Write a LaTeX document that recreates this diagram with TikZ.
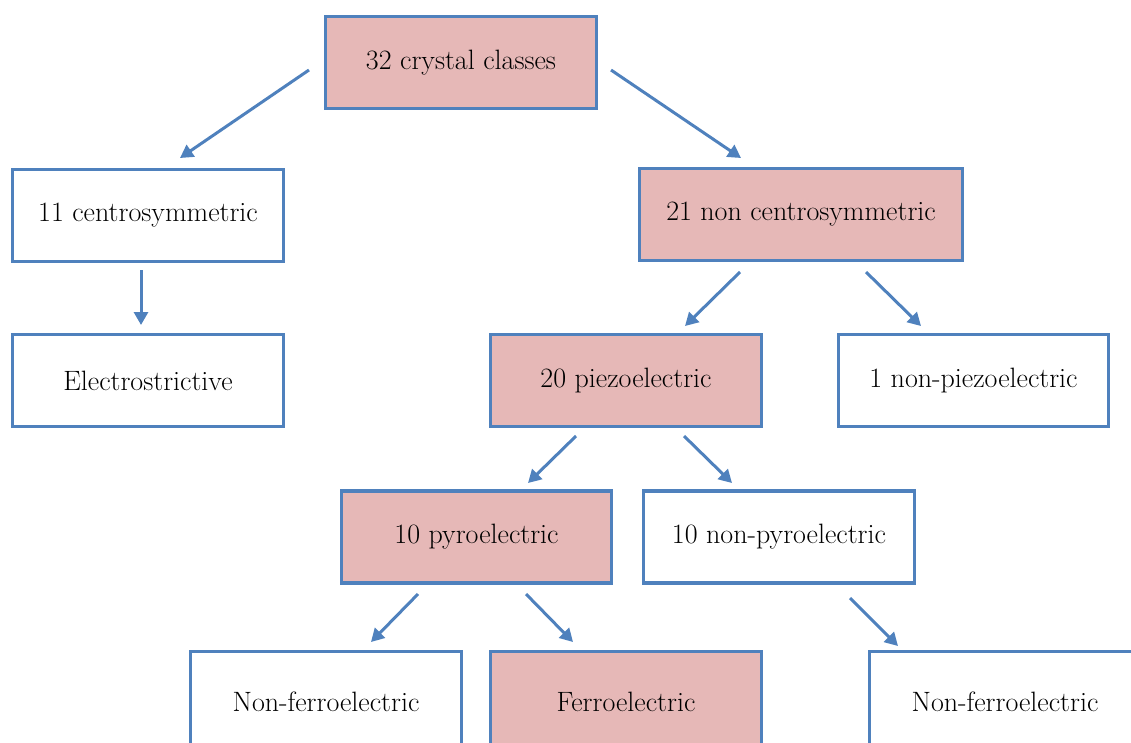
\documentclass[tikz,border=0pt]{standalone}
\usetikzlibrary{arrows.meta}
\definecolor{boxblue}{HTML}{4F81BD}
\definecolor{boxpink}{HTML}{E6B8B7}
\begin{document}
\begin{tikzpicture}[x=1pt,y=-1pt,
  box/.style={draw=boxblue,line width=3.5pt,minimum width=271pt,minimum height=92pt,inner sep=0pt,font=\fontsize{28}{32}\selectfont,text=black,anchor=center},
  pinkbox/.style={box,fill=boxpink},
  whitebox/.style={box,fill=white},
  conn/.style={draw=boxblue,line width=3pt,-{Triangle[length=13pt,width=14pt]}}]
\useasboundingbox (0,0) rectangle (1131,742);
\clip (0,0) rectangle (1131,742);
\node[pinkbox] (root) at (461,62.5) {32 crystal classes};
\node[whitebox] (centro) at (148,215.5) {11 centrosymmetric};
\node[pinkbox,minimum width=323pt] (noncentro) at (801,214.5) {21 non centrosymmetric};
\node[whitebox] (electro) at (148,380.5) {Electrostrictive};
\node[pinkbox] (piezo) at (626,380.5) {20 piezoelectric};
\node[whitebox,minimum width=270pt] (nonpiezo) at (973.5,380.5) {1 non-piezoelectric};
\node[pinkbox,minimum width=270pt] (pyro) at (476.5,537) {10 pyroelectric};
\node[whitebox] (nonpyro) at (779,537) {10 non-pyroelectric};
\node[whitebox,minimum height=100pt] (nonferroA) at (326,701.5) {Non-ferroelectric};
\node[pinkbox,minimum height=100pt] (ferro) at (626,701.5) {Ferroelectric};
\node[whitebox,minimum height=100pt] (nonferroB) at (1005,701.5) {Non-ferroelectric};
% connector end points
\coordinate (a1) at (309,70);  \coordinate (b1) at (180,158);
\coordinate (a2) at (611,70);  \coordinate (b2) at (741,158);
\coordinate (a3) at (141,270); \coordinate (b3) at (141,325);
\coordinate (a4) at (740,272); \coordinate (b4) at (685,326);
\coordinate (a5) at (866,272); \coordinate (b5) at (921,326);
\coordinate (a6) at (576,436); \coordinate (b6) at (528,483);
\coordinate (a7) at (684,436); \coordinate (b7) at (732,483);
\coordinate (a8) at (418,594); \coordinate (b8) at (371,642);
\coordinate (a9) at (526,594); \coordinate (b9) at (573,642);
\coordinate (a10) at (850,598); \coordinate (b10) at (898,646);
\foreach \i in {1,...,10} {\draw[conn] (a\i) -- (b\i);}
\end{tikzpicture}
\end{document}
